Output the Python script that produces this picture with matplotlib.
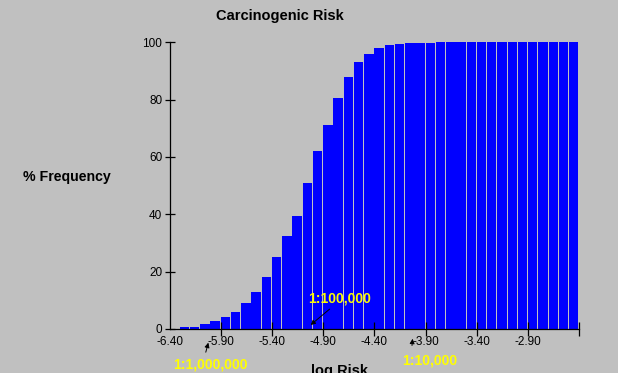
import matplotlib
matplotlib.use("Agg")
import matplotlib.pyplot as plt

# log10 risk bins (left edges, width 0.1) and cumulative % frequency
bin_lefts = [round(-6.3 + 0.1 * i, 1) for i in range(39)]
pct_freq = [0.5, 0.5, 1.7, 2.8, 4.2, 5.9, 9.1, 12.9, 18.2, 25.2,
            32.5, 39.5, 51.0, 61.9, 71.0, 80.4, 87.8, 93.0, 95.8, 97.9,
            99.0, 99.3, 99.6, 99.75, 99.8, 100, 100, 100, 100, 100,
            100, 100, 100, 100, 100, 100, 100, 100, 100]

xtick_vals = [-6.4, -5.9, -5.4, -4.9, -4.4, -3.9, -3.4, -2.9, -2.4]
xtick_labels = ["-6.40", "-5.90", "-5.40", "-4.90", "-4.40", "-3.90", "-3.40", "-2.90", ""]
ytick_vals = [0, 20, 40, 60, 80, 100]

# risk markers: label, log value
markers = [("1:1,000,000", -6.0), ("1:100,000", -5.0), ("1:10,000", -4.0)]

bg = "#c0c0c0"
plt.rcParams["font.family"] = ["Liberation Sans", "DejaVu Sans"]

fig = plt.figure(figsize=(6.18, 3.73), dpi=100, facecolor=bg)
ax = fig.add_axes([0.2743, 0.1185, 0.663, 0.768])
ax.set_facecolor(bg)

ax.bar(bin_lefts, pct_freq, width=0.092, align="edge", color="#0000ff",
       linewidth=0)

ax.set_xlim(-6.4, -2.4)
ax.set_ylim(0, 100)
ax.spines["top"].set_visible(False)
ax.spines["right"].set_visible(False)
for s in ("left", "bottom"):
    ax.spines[s].set_linewidth(0.9)

ax.set_xticks(xtick_vals)
ax.set_xticklabels(xtick_labels)
ax.set_yticks(ytick_vals)
ax.tick_params(axis="x", direction="inout", length=9.4, width=0.9, pad=0.5, labelsize=8.5)
ax.tick_params(axis="y", direction="inout", length=7.9, width=0.9, pad=1.2, labelsize=8.5)
ax.xaxis.get_major_ticks()[0].tick1line.set_visible(False)

# marker annotations (text offsets in data units around the axis)
bold = dict(color="#ffff00", fontsize=10, fontweight="bold", ha="center", va="center")
arrow = dict(arrowstyle="-|>", color="black", lw=0.7, mutation_scale=7)

lbl, v = markers[0]
ax.text(v - 0.005, -12.6, lbl, clip_on=False, **bold)
ax.annotate("", xy=(v - 0.014, -3.9), xytext=(v - 0.053, -9.1),
            arrowprops=arrow, annotation_clip=False)

lbl, v = markers[1]
ax.text(v + 0.26, 10.75, lbl, **bold)
ax.annotate("", xy=(v - 0.044, 0.7), xytext=(v + 0.184, 7.5),
            arrowprops=arrow, annotation_clip=False)

lbl, v = markers[2]
ax.text(v + 0.144, -10.9, lbl, clip_on=False, **bold)
ax.annotate("", xy=(v - 0.025, -2.5), xytext=(v - 0.035, -6.8),
            arrowprops=arrow, annotation_clip=False)

fig.text(0.4534, 0.957, "Carcinogenic Risk", fontsize=10.5, fontweight="bold",
         ha="center", va="center")
fig.text(0.108, 0.525, "% Frequency", fontsize=10.2, fontweight="bold",
         ha="center", va="center")
fig.text(0.550, 0.024, "log Risk", fontsize=10.5, fontweight="bold",
         ha="center", va="top")

fig.savefig("out.png", dpi=100, facecolor=bg)
